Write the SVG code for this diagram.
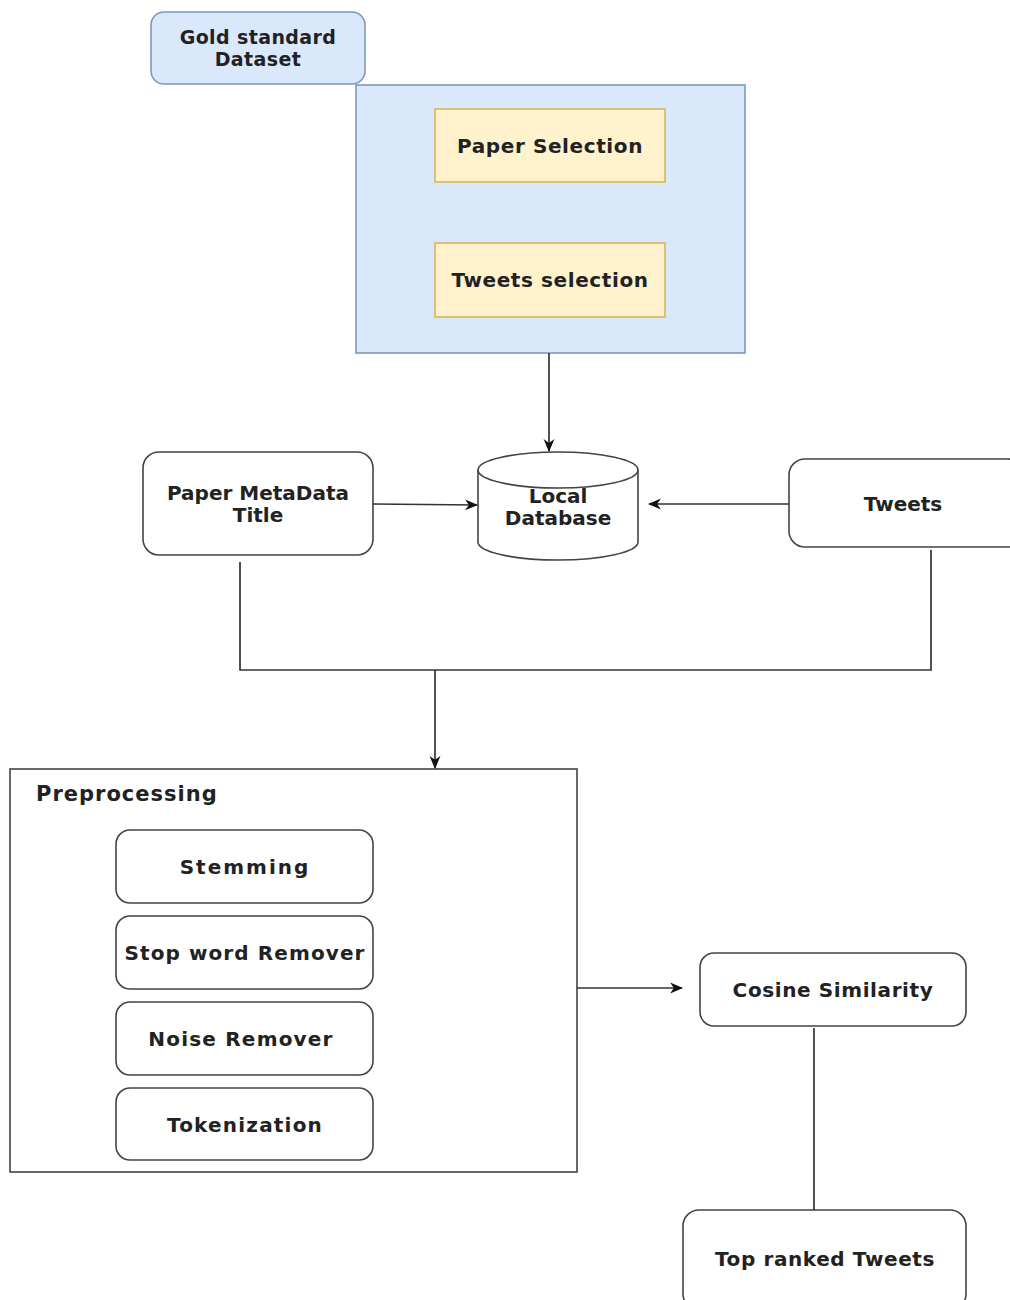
<svg xmlns="http://www.w3.org/2000/svg" width="1010" height="1300" viewBox="0 0 1010 1300">
<style>
text{font-family:"DejaVu Sans","Liberation Sans",sans-serif;font-weight:bold;font-size:20px;letter-spacing:0.6px;fill:#222;text-anchor:middle}
.m{font-size:20px;letter-spacing:0}
.n{fill:#fff;stroke:#444;stroke-width:1.6}
.blue{fill:#dae8fc;stroke:#7f97bb;stroke-width:1.6}
.yel{fill:#fff2cc;stroke:#d6b656;stroke-width:1.6}
.c{fill:none;stroke:#333;stroke-width:1.7}
</style>
<defs>
<marker id="ah" viewBox="0 0 12 12" refX="11" refY="6" markerWidth="13" markerHeight="13" orient="auto" markerUnits="userSpaceOnUse">
<path d="M0,1 L12,6 L0,11 L3.5,6 Z" fill="#111"/>
</marker>
</defs>
<rect width="1010" height="1300" fill="#fff"/>
<g id="gold"><rect class="blue" x="151" y="12" width="214" height="72" rx="13"/><text x="258" y="44" style="font-size:19px;letter-spacing:0.4px">Gold standard</text><text x="258" y="66" style="font-size:19px;letter-spacing:0.4px">Dataset</text></g>
<g id="selection-group"><rect class="blue" x="356" y="85" width="389" height="268"/></g>
<g id="paper-selection"><rect class="yel" x="435" y="109" width="230" height="73"/><text x="550" y="153">Paper Selection</text></g>
<g id="tweets-selection"><rect class="yel" x="435" y="243" width="230" height="74"/><text x="550" y="287">Tweets selection</text></g>
<g id="local-db"><path class="n" d="M478,470 A80,18 0 0 1 638,470 L638,542 A80,18 0 0 1 478,542 Z"/><path class="n" style="fill:none" d="M478,470 A80,18 0 0 0 638,470"/><text class="m" x="558" y="503">Local</text><text class="m" x="558" y="525">Database</text></g>
<g id="paper-meta"><rect class="n" x="143" y="452" width="230" height="103" rx="16"/><text class="m" x="258" y="500">Paper MetaData</text><text class="m" x="258" y="522">Title</text></g>
<g id="tweets"><rect class="n" x="789" y="459" width="235" height="88" rx="16"/><text class="m" x="903" y="511">Tweets</text></g>
<g id="preprocessing"><rect class="n" x="10" y="769" width="567" height="403"/><text x="36" y="801" style="text-anchor:start;font-size:21px;letter-spacing:1px">Preprocessing</text></g>
<g id="stemming"><rect class="n" x="116" y="830" width="257" height="73" rx="14"/><text x="245" y="874" style="letter-spacing:2px">Stemming</text></g>
<g id="stopword"><rect class="n" x="116" y="916" width="257" height="73" rx="14"/><text x="245" y="960" style="letter-spacing:1.1px">Stop word Remover</text></g>
<g id="noise"><rect class="n" x="116" y="1002" width="257" height="73" rx="14"/><text x="241" y="1046" style="letter-spacing:1.2px">Noise Remover</text></g>
<g id="tokenization"><rect class="n" x="116" y="1088" width="257" height="72" rx="14"/><text x="245" y="1132" style="letter-spacing:1.2px">Tokenization</text></g>
<g id="cosine"><rect class="n" x="700" y="953" width="266" height="73" rx="14"/><text x="833" y="997">Cosine Similarity</text></g>
<g id="top-ranked"><rect class="n" x="683" y="1210" width="283" height="100" rx="16"/><text x="825" y="1266">Top ranked Tweets</text></g>
<g id="connectors">
<line class="c" x1="549" y1="353" x2="549" y2="451" marker-end="url(#ah)"/>
<line class="c" x1="373" y1="504" x2="477" y2="505" marker-end="url(#ah)"/>
<line class="c" x1="789" y1="504" x2="649" y2="504" marker-end="url(#ah)"/>
<polyline class="c" points="240,562 240,670 931,670 931,550"/>
<line class="c" x1="435" y1="670" x2="435" y2="768" marker-end="url(#ah)"/>
<line class="c" x1="577" y1="988" x2="682" y2="988" marker-end="url(#ah)"/>
<line class="c" x1="814" y1="1028" x2="814" y2="1210"/>
</g>
</svg>
